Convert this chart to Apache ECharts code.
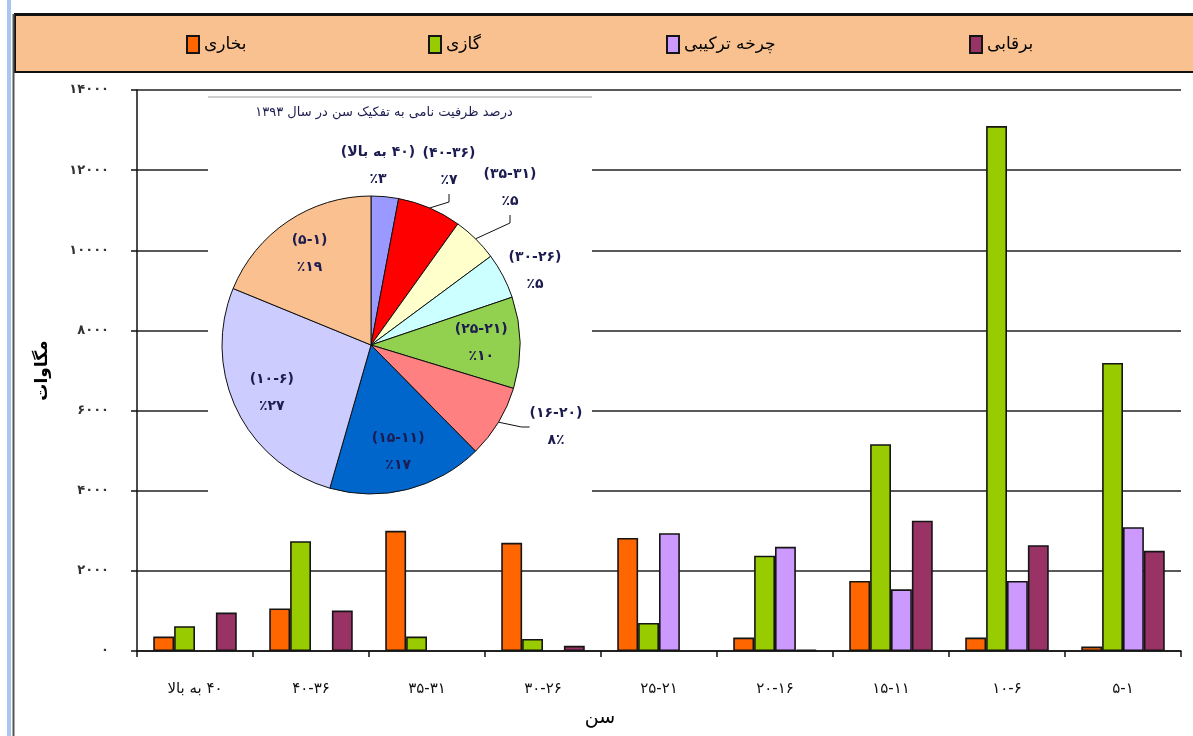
<!DOCTYPE html>
<html><head><meta charset="utf-8">
<script src="https://cdn.jsdelivr.net/npm/echarts@6/dist/echarts.min.js"></script>
<style>html,body{margin:0;padding:0;background:#fff}#c{width:1193px;height:736px}</style>
</head><body><div id="c" dir="rtl"></div>
<script>
// ---- data ----
const categories = ['۴۰ به بالا','۴۰-۳۶','۳۵-۳۱','۳۰-۲۶','۲۵-۲۱','۲۰-۱۶','۱۵-۱۱','۱۰-۶','۵-۱'];
const seriesNames = ['بخاری','گازی','چرخه ترکیبی','برقابی'];
const steamValues    = [360, 1060, 3000, 2700, 2820, 335, 1750, 335, 110];
const gasValues      = [620, 2740, 360, 300, 700, 2380, 5160, 13100, 7190];
const combinedValues = [null, null, null, null, 2940, 2600, 1540, 1750, 3090];
const hydroValues    = [960, 1010, null, 130, null, 30, 3250, 2640, 2500];
const yMax = 14000, yStep = 2000;
const pieTitle = 'درصد ظرفیت نامی به تفکیک سن در سال ۱۳۹۳';
const pieNames = ['(۴۰ به بالا)','(۴۰-۳۶)','(۳۵-۳۱)','(۳۰-۲۶)','(۲۵-۲۱)','(۱۶-۲۰)','(۱۵-۱۱)','(۱۰-۶)','(۵-۱)'];
const piePercents = [3, 7, 5, 5, 10, 8, 17, 27, 19];
const piePercentText = ['٪۳','٪۷','٪۵','٪۵','٪۱۰','۸٪','٪۱۷','٪۲۷','٪۱۹'];
const xAxisName = 'سن';
const yAxisName = 'مگاوات';

// ---- styles ----
const barColors = ['#FF6600','#99CC00','#CC99FF','#993366'];
const pieColors = ['#9999FF','#FF0000','#FFFFCC','#CCFFFF','#92D050','#FF8080','#0066CC','#CCCCFF','#FAC090'];
const FONT = 'DejaVu Sans';
const toFa = s => String(s).replace(/\d/g, d => '۰۱۲۳۴۵۶۷۸۹'[d]);
const pieCenter = [371, 345], pieR = 149;
const outsideIdx = [0,1,2,3,5];
const outsideLabelPos = {0:[378,166],1:[449,167],2:[510,188],3:[535,271],5:[556,427]};
const noLine = [0,3];

const total = piePercents.reduce((a,b)=>a+b,0);
function insidePos(i){
  let cum = 0; for (let k=0;k<i;k++) cum += piePercents[k];
  const mid = (cum + piePercents[i]/2) / total * 2*Math.PI;
  const k = 0.74;
  return [pieCenter[0] + k*pieR*Math.sin(mid), pieCenter[1] - k*pieR*Math.cos(mid)];
}

const chart = echarts.init(document.getElementById('c'), null, {renderer:'canvas'});
const valuesList = [steamValues, gasValues, combinedValues, hydroValues];

const barSeries = seriesNames.map((n,i)=>({
  name:n, type:'bar', data: valuesList[i], barGap:'0%', barCategoryGap:'28%',
  itemStyle:{color:barColors[i], borderColor:'#151515', borderWidth:1.6}, z:2
}));

const legendLefts = [186, 428, 666, 969];
const legends = seriesNames.map((n,i)=>({
  data:[n], left: legendLefts[i], top: 35, padding:0, itemWidth:12, itemHeight:17,
  icon:'rect', textStyle:{fontFamily:FONT, fontSize:17, color:'#000'}
}));

const option = {
  animation:false,
  backgroundColor:'#fff',
  legend: legends,
  grid:{left:137, right:12, top:90, bottom:85, containLabel:false},
  xAxis:{
    type:'category', data:categories,
    axisLine:{lineStyle:{color:'#111', width:1.5}},
    axisTick:{show:true, length:6, lineStyle:{color:'#111', width:1.5}},
    axisLabel:{margin:31, fontFamily:FONT, fontSize:15, color:'#111'}
  },
  yAxis:{
    type:'value', min:0, max:yMax, interval:yStep,
    name:yAxisName, nameLocation:'middle', nameGap:86,
    nameTextStyle:{fontFamily:FONT, fontSize:17, fontWeight:'bold', color:'#000'},
    axisLine:{show:true, lineStyle:{color:'#111', width:1.5}},
    axisTick:{show:true, length:6, lineStyle:{color:'#111', width:1.5}},
    axisLabel:{margin:28, fontFamily:FONT, fontSize:13, fontWeight:'bold', color:'#333', formatter:v=>toFa(v)},
    splitLine:{show:true, lineStyle:{color:'#222', width:1.5}}
  },
  graphic:[
    {type:'rect', z:10, shape:{x:7,y:0,width:4,height:736}, style:{fill:'#A9C6EE'}},
    {type:'line', z:10, shape:{x1:13.5,y1:14,x2:13.5,y2:736}, style:{stroke:'#555', lineWidth:2}},
    {type:'rect', z:0, shape:{x:15,y:15,width:1190,height:57}, style:{fill:'#F9C18F', stroke:'#111', lineWidth:2}},
    {type:'line', z:1, shape:{x1:14,y1:14.5,x2:1193,y2:14.5}, style:{stroke:'#111', lineWidth:3}},
    {type:'rect', z:1, shape:{x:208,y:97,width:384,height:400}, style:{fill:'#fff'}},
    {type:'line', z:1, shape:{x1:208,y1:97,x2:592,y2:97}, style:{stroke:'#cfcfcf', lineWidth:2}},
    {type:'text', z:5, x:384, y:113, style:{text:pieTitle, fontFamily:FONT, fontSize:13, fill:'#1c1c50', align:'center', verticalAlign:'middle'}},
    {type:'text', z:5, x:600, y:718, style:{text:xAxisName, fontFamily:FONT, fontSize:19, fill:'#000', align:'center', verticalAlign:'middle'}}
  ],
  series: barSeries.concat([{
    type:'pie', z:5, center:pieCenter, radius:pieR, startAngle:90, clockwise:true,
    legendHoverLink:false,
    data: piePercents.map((v,i)=>({
      value:v, name:pieNames[i],
      itemStyle:{color:pieColors[i]},
      label:{position: outsideIdx.includes(i) ? 'outside' : 'inside'},
      labelLine:{show: outsideIdx.includes(i) && !noLine.includes(i)}
    })),
    itemStyle:{borderColor:'#111', borderWidth:1},
    label:{
      formatter: p => pieNames[p.dataIndex] + '\n' + piePercentText[p.dataIndex],
      fontFamily:FONT, fontSize:14, fontWeight:'bold', color:'#1c1c50', lineHeight:27, align:'center'
    },
    labelLine:{lineStyle:{color:'#111', width:1}, length:8, length2:8},
    labelLayout: params => {
      const i = params.dataIndex;
      const pos = outsideLabelPos[i] || insidePos(i);
      return {x:pos[0], y:pos[1], align:'center', verticalAlign:'middle'};
    }
  }])
};
chart.setOption(option);
</script></body></html>
